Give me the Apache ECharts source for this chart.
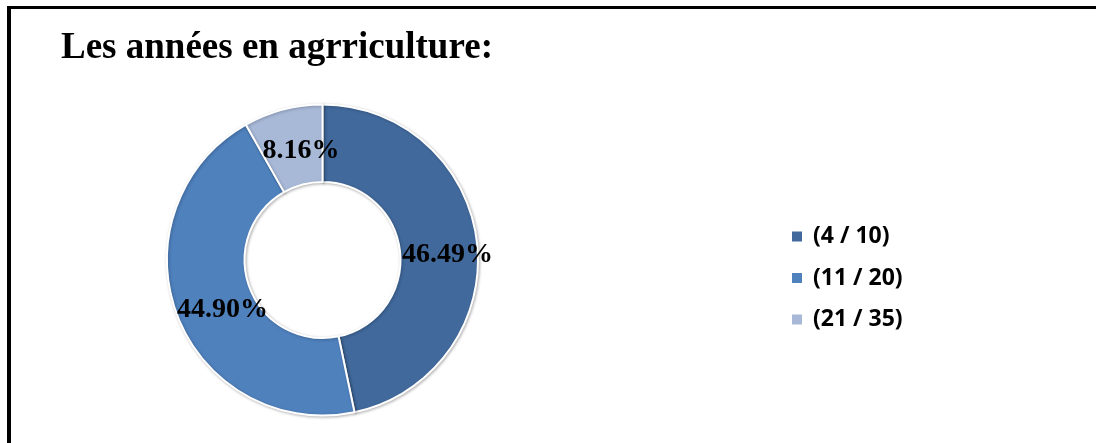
<!DOCTYPE html>
<html>
<head>
<meta charset="utf-8">
<title>Les années en agrriculture</title>
<script src="https://cdn.jsdelivr.net/npm/echarts@6/dist/echarts.min.js"></script>
<style>
  html, body { margin: 0; padding: 0; background: #ffffff; }
  #chart { width: 1096px; height: 443px; }
</style>
</head>
<body>
<div id="chart"></div>
<script>
// Tranches d'années d'expérience en agriculture et leur part (%)
const categories = ['(4 / 10)', '(11 / 20)', '(21 / 35)'];
const shares = [46.49, 44.90, 8.16];
const colors = ['#41699C', '#4F81BD', '#A8B9D8'];
const titleText = 'Les années en agrriculture:';

const chart = echarts.init(document.getElementById('chart'), null, { renderer: 'canvas' });

const pieData = categories.map((name, i) => ({
  name: name,
  value: shares[i],
  itemStyle: { color: colors[i] }
}));

// small nudges of the in-ring percentage labels
const labelShiftX = [6, 12, 9];

chart.setOption({
  backgroundColor: '#ffffff',
  animation: false,
  title: {
    text: titleText,
    left: 61,
    top: 30,
    padding: 0,
    textStyle: {
      fontFamily: '"Liberation Serif", "Times New Roman", serif',
      fontWeight: 'bold',
      fontSize: 37,
      color: '#000000'
    }
  },
  legend: {
    orient: 'vertical',
    left: 790,
    top: 225,
    padding: 0,
    icon: 'rect',
    itemWidth: 12,
    itemHeight: 12,
    itemGap: 18.5,
    data: categories,
    textStyle: {
      fontFamily: '"Open Sans", "Liberation Sans", sans-serif',
      fontWeight: 'bold',
      fontSize: 23,
      lineHeight: 22,
      color: '#000000',
      padding: [0, 0, 0, 5]
    }
  },
  graphic: [
    { type: 'rect', shape: { x: 7, y: 6, width: 1089, height: 3 }, style: { fill: '#000000' }, z: 100 },
    { type: 'rect', shape: { x: 7, y: 6, width: 4, height: 437 }, style: { fill: '#000000' }, z: 100 }
  ],
  series: [{
    type: 'pie',
    center: [322.5, 260],
    radius: [78, 155.5],
    startAngle: 90,
    clockwise: true,
    avoidLabelOverlap: false,
    itemStyle: {
      borderColor: '#ffffff',
      borderWidth: 2,
      shadowBlur: 3,
      shadowColor: 'rgba(0,0,0,0.25)',
      shadowOffsetX: 1,
      shadowOffsetY: 1
    },
    label: {
      show: true,
      position: 'inside',
      formatter: (p) => p.value.toFixed(2) + '%',
      fontFamily: '"Liberation Serif", "Times New Roman", serif',
      fontWeight: 'bold',
      fontSize: 28,
      color: '#000000'
    },
    labelLayout: (p) => ({ dx: labelShiftX[p.dataIndex], dy: 7 }),
    labelLine: { show: false },
    emphasis: { disabled: true },
    data: pieData
  }]
});
</script>
</body>
</html>
